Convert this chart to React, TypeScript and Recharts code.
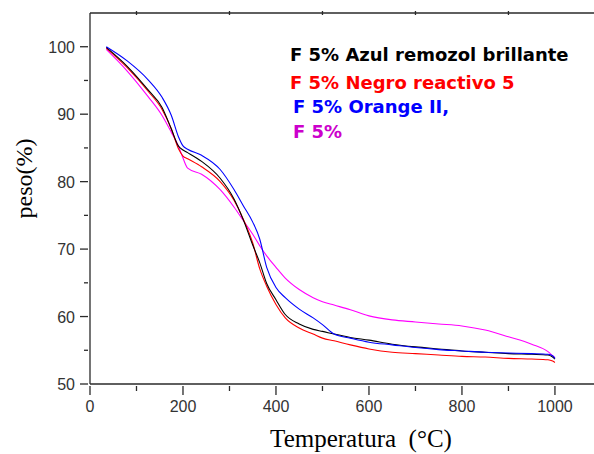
import React from 'react';
import { LineChart, Line, XAxis, YAxis } from 'recharts';

// temperatura (°C) — puntos comunes para las cuatro curvas TGA
const TEMPS = [35, 80, 125, 155, 175, 190, 200, 210, 240, 280, 310, 330, 350, 365, 380, 400, 420, 450, 480, 500, 525, 560, 600, 650, 700, 750, 800, 850, 900, 950, 985, 995, 1000];

// peso (%)
const AZUL = [99.9, 97.1, 93.6, 91.0, 87.8, 85.3, 84.7, 84.3, 83.0, 80.5, 77.4, 74.3, 70.6, 68.0, 64.9, 62.5, 60.3, 58.9, 58.1, 57.8, 57.4, 56.9, 56.5, 55.9, 55.5, 55.2, 54.9, 54.7, 54.5, 54.4, 54.3, 54.0, 53.7];
const NEGRO = [99.8, 96.9, 93.4, 90.7, 87.8, 84.9, 83.8, 83.4, 82.2, 80.0, 77.2, 74.4, 70.9, 67.1, 64.5, 61.8, 59.8, 58.3, 57.4, 56.8, 56.4, 55.8, 55.2, 54.7, 54.5, 54.3, 54.1, 54.0, 53.8, 53.7, 53.6, 53.4, 53.2];
const ORANGE = [100.0, 97.9, 95.1, 92.5, 89.8, 86.7, 85.3, 84.8, 83.9, 81.8, 78.8, 76.4, 74.0, 71.5, 67.3, 64.3, 62.8, 61.1, 59.8, 58.8, 57.4, 56.8, 56.2, 55.8, 55.4, 55.1, 54.9, 54.7, 54.6, 54.5, 54.4, 54.2, 53.8];
const BLANCO = [99.6, 96.4, 92.6, 89.8, 87.3, 85.3, 83.5, 82.0, 81.1, 78.8, 76.2, 74.2, 72.2, 70.5, 69.0, 67.3, 65.7, 64.0, 62.8, 62.2, 61.7, 61.0, 60.1, 59.5, 59.2, 58.9, 58.6, 58.0, 57.0, 55.9, 54.8, 54.2, 53.9];

const X_TICKS = [0, 100, 200, 300, 400, 500, 600, 700, 800, 900, 1000];
const X_TOP_TICKS = [100, 300, 500, 700, 900];
const Y_TICKS = [50, 55, 60, 65, 70, 75, 80, 85, 90, 95, 100];

const SERIES = [
  { key: 'blanco', name: 'F 5%', color: '#ff00ff', values: BLANCO },
  { key: 'negro', name: 'F 5% Negro reactivo 5', color: '#ff0000', values: NEGRO },
  { key: 'azul', name: 'F 5% Azul remozol brillante', color: '#000000', values: AZUL },
  { key: 'orange', name: 'F 5% Orange II,', color: '#0000ff', values: ORANGE },
];

// orden y posición del texto de la leyenda (como en la figura)
const LEGEND = [
  { key: 'azul', x: 290, y: 61, color: '#000000' },
  { key: 'negro', x: 290, y: 89, color: '#ff0000' },
  { key: 'orange', x: 293, y: 113, color: '#0000ff' },
  { key: 'blanco', x: 293, y: 138, color: '#cc00cc' },
];

const AXIS = '#2a2a2a';
const TICK_FONT = '"Liberation Sans", Arial, sans-serif';
const SERIF = '"Liberation Serif", "Times New Roman", serif';

const chartData = TEMPS.map((t, i) => {
  const row: Record<string, number> = { T: t };
  SERIES.forEach((s) => {
    row[s.key] = s.values[i];
  });
  return row;
});

const BottomTick = ({ x, y, payload }: any) => {
  const major = payload.value % 200 === 0;
  return (
    <g>
      <line x1={x} x2={x} y1={y} y2={y + (major ? 9 : 5)} stroke={AXIS} strokeWidth={1.3} />
      {major && (
        <text x={x} y={y + 26} textAnchor="middle" fontSize={16} fontFamily={TICK_FONT} fill="#333">
          {payload.value}
        </text>
      )}
    </g>
  );
};

const TopTick = ({ x, y }: any) => (
  <line x1={x} x2={x} y1={y} y2={y + 4} stroke={AXIS} strokeWidth={1.3} />
);

const LeftTick = ({ x, y, payload }: any) => {
  const major = payload.value % 10 === 0;
  return (
    <g>
      <line x1={x - (major ? 8 : 4)} x2={x} y1={y} y2={y} stroke={AXIS} strokeWidth={1.3} />
      {major && (
        <text x={x - 13} y={y + 6} textAnchor="end" fontSize={16} fontFamily={TICK_FONT} fill="#333">
          {payload.value}
        </text>
      )}
    </g>
  );
};

const YLabel = ({ viewBox }: any) => {
  const cx = viewBox.x + 24;
  const cy = viewBox.y + viewBox.height / 2 - 20;
  return (
    <text
      x={cx}
      y={cy}
      transform={`rotate(-90 ${cx} ${cy})`}
      textAnchor="middle"
      dominantBaseline="central"
      fontSize={24}
      fontFamily={SERIF}
      fill="#000"
    >
      peso(%)
    </text>
  );
};

const XLabel = ({ viewBox }: any) => {
  const cx = viewBox.x + viewBox.width / 2 + 19;
  const cy = viewBox.y + viewBox.height - 7;
  return (
    <text x={cx} y={cy} textAnchor="middle" fontSize={25} fontFamily={SERIF} fill="#000">
      {'Temperatura\u00a0\u00a0(\u00b0C)'}
    </text>
  );
};

export default function App() {
  return (
    <div style={{ position: 'absolute', left: 0, top: 0, width: 594, height: 454, background: '#fff' }}>
      <LineChart width={594} height={454} data={chartData} margin={{ top: 0, right: 0, bottom: 0, left: 0 }}>
        <XAxis
          dataKey="T"
          type="number"
          domain={[0, 1084]}
          ticks={X_TICKS}
          interval={0}
          height={70}
          tickSize={0}
          tickLine={false}
          tick={<BottomTick />}
          axisLine={{ stroke: AXIS, strokeWidth: 1.3 }}
          label={<XLabel />}
        />
        <XAxis
          xAxisId="top"
          orientation="top"
          dataKey="T"
          type="number"
          domain={[0, 1084]}
          ticks={X_TOP_TICKS}
          interval={0}
          height={13}
          tickSize={0}
          tickLine={false}
          tick={<TopTick />}
          axisLine={{ stroke: AXIS, strokeWidth: 1.3 }}
        />
        <YAxis
          type="number"
          domain={[50, 105]}
          ticks={Y_TICKS}
          interval={0}
          width={90}
          tickSize={0}
          tickLine={false}
          tick={<LeftTick />}
          axisLine={{ stroke: AXIS, strokeWidth: 1.3 }}
          label={<YLabel />}
        />
        {SERIES.map((s) => (
          <Line
            key={s.key}
            type="monotone"
            dataKey={s.key}
            name={s.name}
            stroke={s.color}
            strokeWidth={1.1}
            dot={false}
            isAnimationActive={false}
          />
        ))}
      </LineChart>
      <svg width={594} height={454} style={{ position: 'absolute', left: 0, top: 0, pointerEvents: 'none' }}>
        {LEGEND.map((l) => {
          const s = SERIES.find((x) => x.key === l.key)!;
          return (
            <text key={l.key} x={l.x} y={l.y} fontSize={18} fontWeight={700} fontFamily="'DejaVu Sans', sans-serif" fill={l.color}>
              {s.name}
            </text>
          );
        })}
      </svg>
    </div>
  );
}
